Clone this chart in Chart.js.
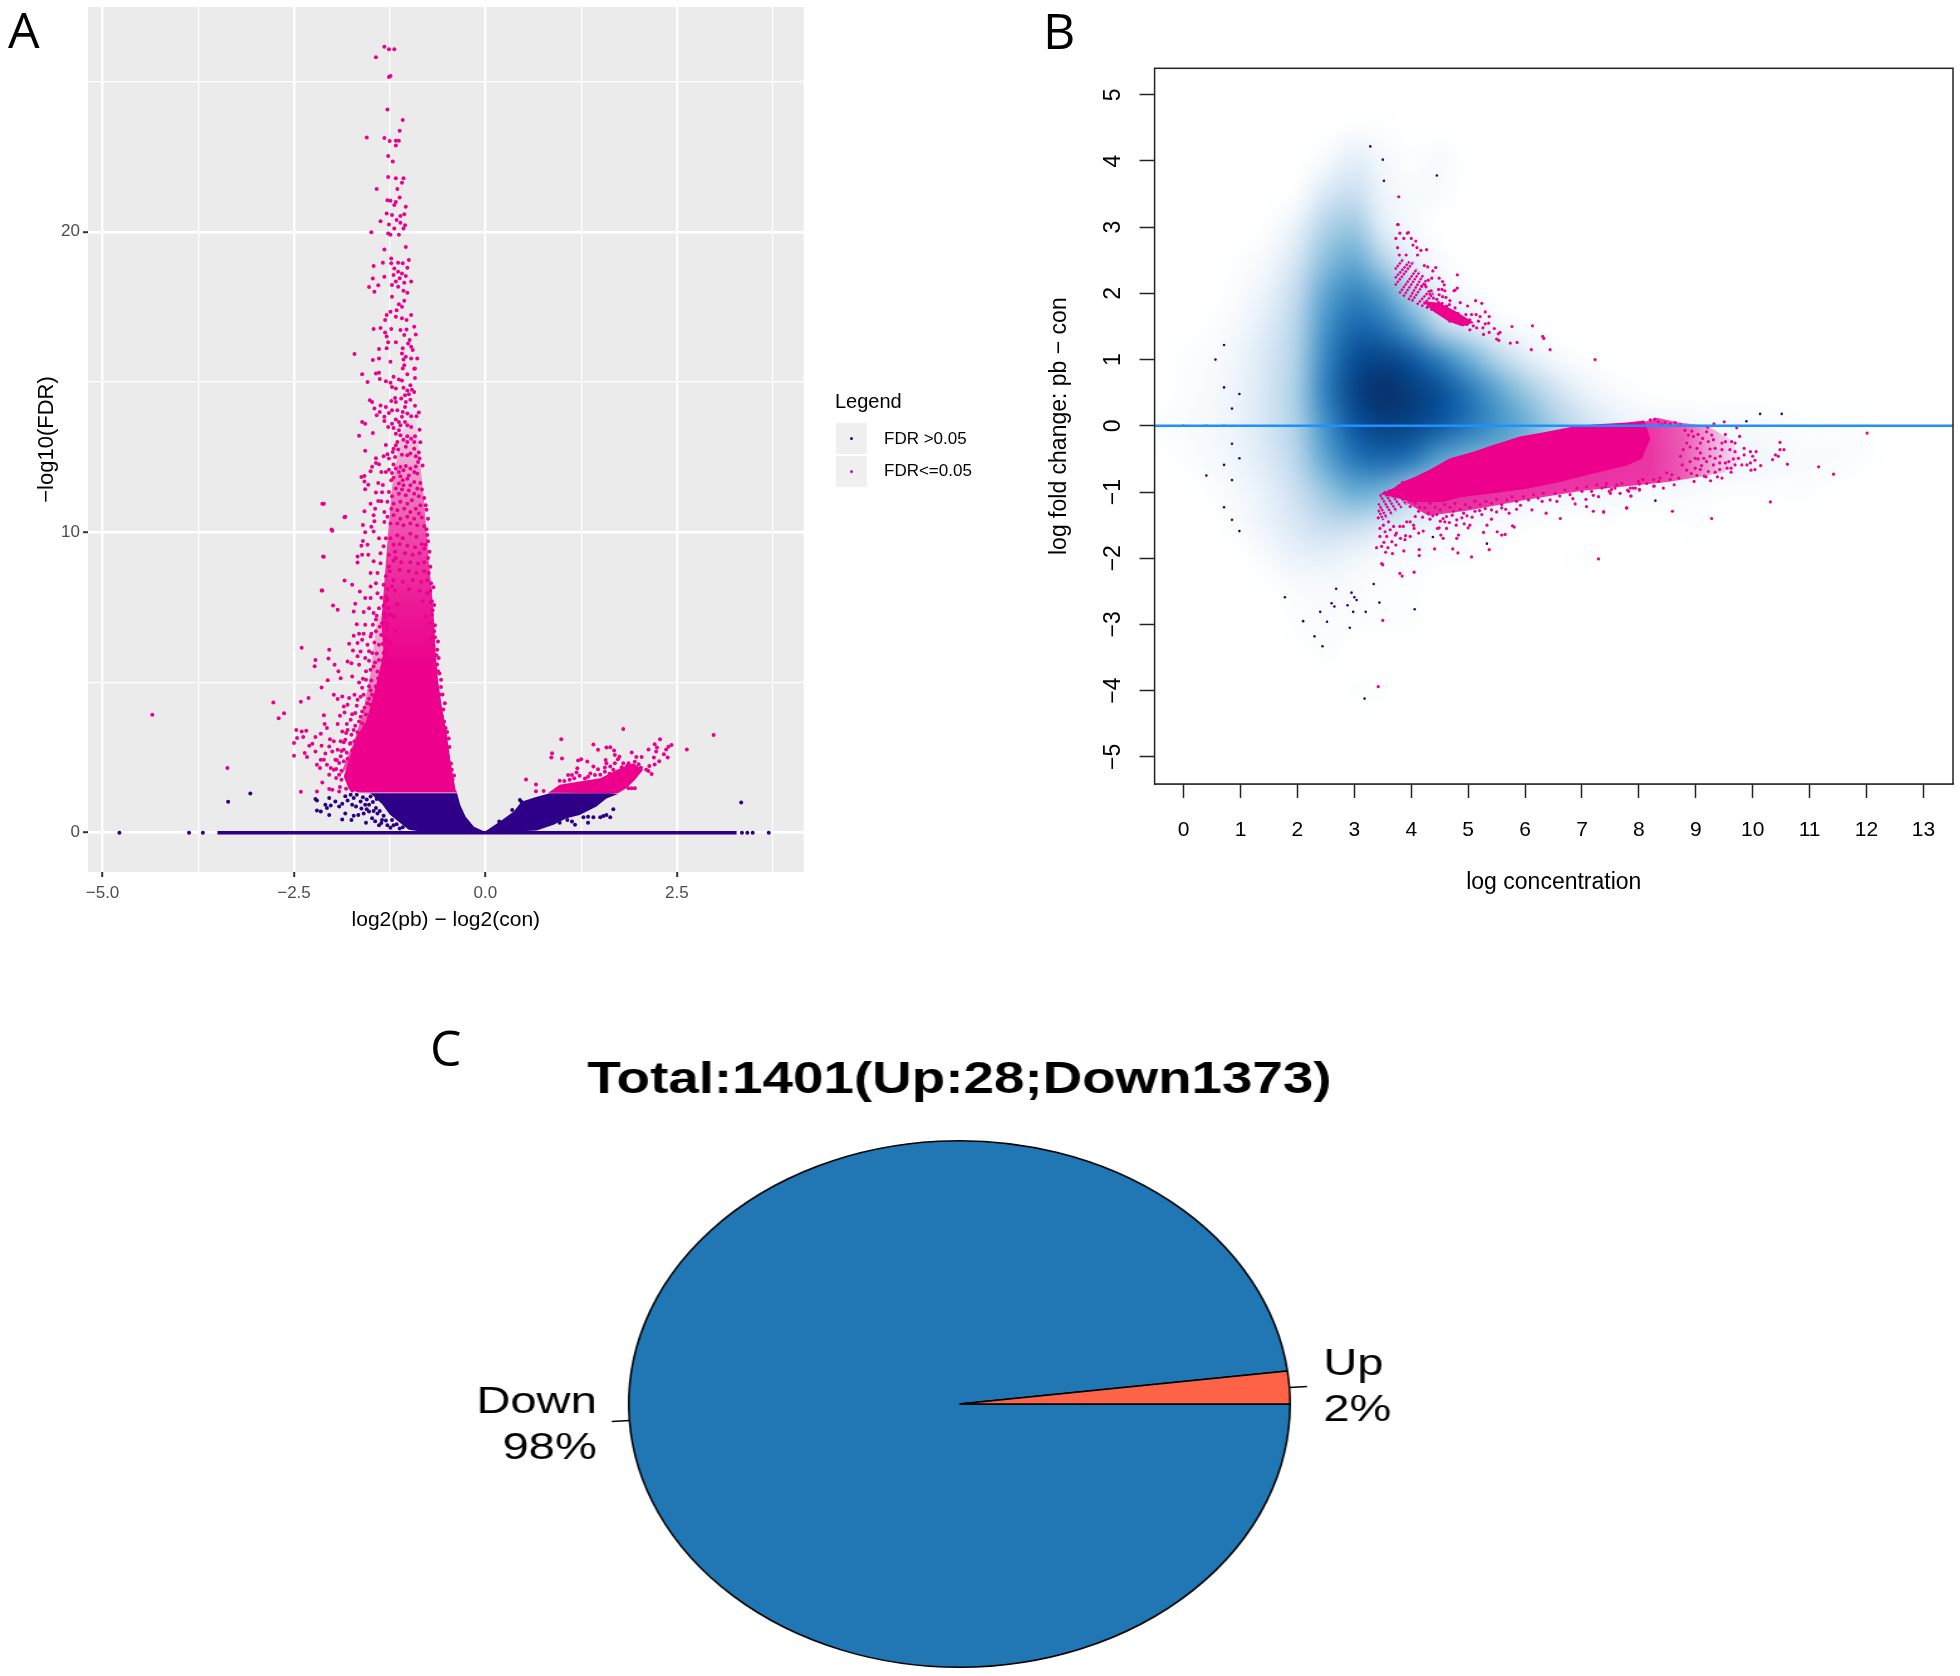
<!DOCTYPE html>
<html>
<head>
<meta charset="utf-8">
<title>Volcano, MA plot and pie</title>
<script src="https://cdn.jsdelivr.net/npm/chart.js@4"></script>
<style>
  html, body { margin: 0; background: #fff; }
  body { position: relative; width: 1960px; height: 1676px; overflow: hidden; font-family: "Liberation Sans", sans-serif; }
  canvas { position: absolute; }
  .letter { position: absolute; font: 50px "Open Sans", sans-serif; color: #000; line-height: 1; }
  .lg { position: absolute; color: #000; white-space: nowrap; }
  .key { position: absolute; left: 836px; width: 31px; height: 31px; background: #f0f0f0; }
  .key i { position: absolute; left: 14px; top: 14px; width: 3.4px; height: 3.4px; border-radius: 50%; }
</style>
</head>
<body>
<canvas id="volcano" width="1000" height="960" style="left:0;top:0"></canvas>
<canvas id="ma" width="940" height="880" style="left:1020px;top:40px"></canvas>
<canvas id="pie" width="800" height="636" style="left:456.6px;top:1040px;transform:scaleX(1.256);transform-origin:left top"></canvas>

<div class="letter" style="left:8px;top:4px">A</div>
<div class="letter" style="left:1043px;top:5px">B</div>
<div class="letter" style="left:430px;top:1022px">C</div>

<div class="lg" style="left:835px;top:390px;font-size:20px">Legend</div>
<div class="key" style="top:423px"><i style="background:#2e0088"></i></div>
<div class="key" style="top:456px"><i style="background:#ec008c"></i></div>
<div class="lg" style="left:884px;top:429px;font-size:17px">FDR &gt;0.05</div>
<div class="lg" style="left:884px;top:461px;font-size:17px">FDR&lt;=0.05</div>

<script>
const PINK = '#ec008c';
const NAVY = '#2e0088';

// ---- A: volcano ----
const aXTicks = [-5, -3.75, -2.5, -1.25, 0, 1.25, 2.5, 3.75];
const aXMajor = [-5, -2.5, 0, 2.5];
const aYTicks = [0, 5, 10, 15, 20, 25];
const aYMajor = [0, 10, 20];

// areas where the dots merge together; the pink mass thins out upward
const aPinkMass = [[-1.65,1.34],[-1.78,1.43],[-1.85,1.87],[-1.78,2.43],[-1.68,3.2],[-1.56,3.7],[-1.5,4.2],[-1.44,4.76],[-1.38,5.42],[-1.33,6],[-1.36,7],[-1.33,8],[-1.3,9],[-1.27,10],[-1.22,11.5],[-1.12,13],[-1,14],[-.92,14],[-.86,12.5],[-.8,11],[-.77,10],[-.74,9],[-.7,8],[-.67,7],[-.65,6],[-.62,5.09],[-.57,4.2],[-.5,3.2],[-.46,2.43],[-.39,1.43],[-.37,1.34]];
const aPinkMassFade = [[14,0],[12,.35],[10,.68],[7.5,.9],[5.5,1]];
const aPinkSide = [[-1.9,1.9],[-1.72,3],[-1.6,4],[-1.5,5.3],[-1.42,7],[-1.3,7.6],[-1.25,5.6],[-1.45,4],[-1.6,3],[-1.75,2.3]];
const aPinkSideFade = [[7.6,.15],[5,.45],[3,.7]];
const aPinkWing = [[.82,1.33],[.97,1.59],[1.23,1.7],[1.5,1.81],[1.76,2.14],[1.93,2.31],[2.06,2.09],[1.95,1.75],[1.84,1.48],[1.73,1.31]];
const aNavySolidLeft = [[-1.65,1.31],[-.37,1.31],[-.33,.93],[-.26,.54],[-.15,.2],[-.02,.05],[0,0],[-.8,.02],[-1,.1],[-1.1,.3],[-1.25,.6],[-1.35,.95],[-1.5,1.3]];
const aNavySolidRight = [[0,.05],[.19,.37],[.37,.7],[.47,1.03],[.65,1.18],[.84,1.31],[1.65,1.31],[1.73,1.29],[1.58,1.14],[1.45,.87],[1.23,.59],[1.06,.48],[.89,.26],[.67,.07],[0,0]];
const aZeroLine = [[-3.5,0],[3.28,0]];
const aZeroDots = [[-4.78,0],[-3.87,0],[-3.69,0],[3.35,0],[3.42,0],[3.49,0],[3.7,0]];

const aPinkTop = [[-1.32,26.16],[-1.26,26.07],[-1.19,26.07],[-1.43,25.81],[-1.24,25.18],[-1.26,25.15],[-1.28,24.07],[-1.08,23.72],[-1.12,23.36],[-1.55,23.14],[-1.32,23.12],[-1.25,23.02],[-1.17,23.03],[-1.13,23.03],[-1.17,22.87],[-1.27,22.52],[-1.21,22.34],[-1.27,21.82],[-1.17,21.78],[-1.07,21.78],[-1.09,21.63],[-1.42,21.42],[-1.15,21.42],[-1.28,21.05],[-1.24,21.03],[-1.12,21.14],[-1.17,20.99],[-1.19,20.89],[-1.04,20.83],[-1.29,20.61],[-1.22,20.56],[-1.11,20.52],[-1.06,20.58],[-1.37,20.35],[-1.16,20.39],[-1.26,20.24],[-1.11,20.3],[-1.05,20.22],[-1.19,20.11],[-1.07,20.11],[-1.49,19.98],[-1.27,19.94],[-1.24,19.9],[-1.13,19.9],[-1.32,19.41],[-1.04,19.49],[-1.23,19.11],[-1,19.06],[-1.14,18.97],[-1.08,18.95],[-1.34,18.97],[-1.23,18.95],[-1.46,18.86],[-1.02,18.8],[-1.19,18.78],[-1.14,18.67],[-1.09,18.61],[-1.2,18.56],[-1.32,18.5],[-1.47,18.44],[-1.12,18.45],[-1.04,18.53],[-1.17,18.34],[-.97,18.34],[-1.06,18.3],[-1.4,18.22],[-1.22,18.23],[-1.52,18.16],[-1.14,18.17],[-1.07,18.04],[-1.02,17.97],[-1.45,18],[-1.22,17.84],[-1.06,17.7],[-1.13,17.59],[-1.09,17.5],[-1.16,17.39],[-1.24,17.34],[-.97,17.23],[-1.29,17.23],[-1.17,17.17],[-1.09,17.12],[-1.31,17.06],[-1.03,17.06],[-.93,16.84],[-1.46,16.76],[-1.37,16.8],[-1.23,16.76],[-1.11,16.73],[-1.03,16.75],[-1.31,16.65],[-.91,16.58],[-1.06,16.56],[-1.29,16.51],[-.99,16.4],[-1.17,16.32],[-1.27,16.32],[-1.01,16.28],[-.97,16.17],[-1.29,16.12],[-1.39,16.1],[-1.08,16.12],[-.95,16.06],[-1.71,15.93],[-1.09,15.95],[-1.04,15.84],[-1.07,15.75],[-.97,15.78],[-.89,15.78],[-1.47,15.73],[-1.39,15.78],[-1.24,15.67],[-1.06,15.56],[-.92,15.45],[-1.61,15.26],[-1.39,15.31],[-1.08,15.45]];
const aPinkUpper = [[-1.54,15],[-1.38,15.1],[-1.43,15.28],[-1.3,15.02],[-1.24,14.97],[-1.2,15.17],[-1.22,14.83],[-1.17,14.78],[-1.13,15.08],[-1.09,15.05],[-1.02,15.26],[-.93,15.44],[-.92,15.13],[-.98,14.89],[-.96,14.74],[-1.02,14.72],[-1.07,14.81],[-1,14.59],[-.93,14.67],[-1.05,14.56],[-1.51,14.39],[-1.48,14.33],[-1.18,14.47],[-1.23,14.37],[-1.17,14.33],[-1.1,14.45],[-1.04,14.33],[-.98,14.41],[-.92,14.21],[-1.05,14.17],[-1.45,14.12],[-1.37,14.22],[-1.3,14.17],[-1.38,14],[-1.42,13.89],[-1.22,14.06],[-1.15,14.06],[-1.26,13.97],[-1.32,13.84],[-1.08,14],[-1.02,13.95],[-.87,13.98],[-.9,13.86],[-.97,13.86],[-1.09,13.84],[-1.17,13.75],[-1.32,13.7],[-1.61,13.67],[-1.57,13.61],[-1.22,13.61],[-1.13,13.67],[-1.05,13.67],[-1.02,13.56],[-1.11,13.56],[-1.27,13.5],[-1.2,13.47],[-.97,13.5],[-.86,13.41],[-1.13,13.39],[-1.47,13.3],[-1.65,13.21],[-1.17,13.28],[-1.11,13.23],[-1.02,13.19],[-1.07,13.08],[-.97,13.11],[-.92,13.19],[-.85,12.99],[-.93,13],[-1.02,13],[-1.15,13],[-1.3,12.9],[-1.17,12.89],[-1.2,12.78],[-1.21,12.67],[-1.14,12.75],[-.93,12.78],[-1.04,12.84],[-1.57,12.71],[-1.28,12.59],[-1.33,12.53],[-1.09,12.58],[-1.02,12.56],[-.98,12.62],[-.87,12.65],[-.86,12.45],[-.91,12.53],[-1.18,12.5],[-1.26,12.45],[-1.43,12.46],[-1.43,12.3],[-1.39,12.26],[-1.2,12.25],[-.88,12.34],[-1.11,12.17],[-1.04,12.2],[-.98,12.12],[-.91,12.19],[-.82,12.22],[-1.48,12.18],[-1.17,12.12],[-1.5,12.03],[-1.36,12],[-1.3,12],[-1.26,12.08],[-1.22,11.97],[-1.13,12],[-1.07,12.06],[-.93,12],[-1,11.89],[-.89,11.95],[-1.11,11.86],[-1.2,11.81],[-1.62,11.84],[-1.58,11.87],[-1.58,11.69],[-1.53,11.58],[-1.4,11.64],[-1.34,11.57],[-1.23,11.73],[-1.08,11.73],[-1.02,11.78],[-.93,11.67],[-.85,11.64],[-1.13,11.62],[-1.07,11.56],[-.98,11.56],[-1.57,11.43],[-1.43,11.32],[-1.35,11.33],[-1.26,11.34],[-1.17,11.45],[-1.09,11.42],[-1,11.39],[-.89,11.45],[-.83,11.42],[-1.13,11.28],[-1.04,11.23],[-.93,11.28],[-.87,11.2],[-.8,11.14],[-1.22,11.2],[-1.4,11.04],[-1.5,10.95],[-2.13,10.95],[-1.36,11.03],[-1.28,11.01],[-1.2,10.95],[-1.11,11.01],[-1.02,10.95],[-.96,11.06],[-.85,10.9],[-.78,10.9],[-.91,10.78],[-1.44,10.78],[-1.58,10.7],[-1.32,10.67],[-1.23,10.78],[-1.15,10.73],[-1.06,10.78],[-.98,10.67],[-.77,10.75],[-.87,10.62],[-1.84,10.5],[-1.46,10.56],[-1.28,10.51],[-1.2,10.56],[-1.11,10.45],[-1.02,10.51],[-.93,10.45],[-.83,10.49],[-.75,10.45],[-1.45,10.36],[-1.6,10.24],[-1.32,10.34],[-1.24,10.29],[-1.15,10.29],[-1.07,10.23],[-.98,10.29],[-.89,10.23],[-.8,10.2],[-1.49,10.18],[-2.01,10.09]];
const aPinkMiddle = [[-1.15,9.9],[-1.08,9.8],[-.98,9.95],[-.9,9.85],[-1.12,9.6],[-1.02,9.55],[-.92,9.5],[-.83,9.6],[-1.18,9.35],[-1.05,9.3],[-.95,9.25],[-.86,9.3],[-.8,9.45],[-1.2,9.05],[-1.1,9],[-.98,9],[-.88,8.95],[-.8,9],[-1.25,8.7],[-1.12,8.75],[-1,8.7],[-.9,8.65],[-.8,8.7],[-1.2,8.4],[-1.08,8.35],[-.95,8.4],[-.84,8.35],[-.76,8.4],[-1.28,8.1],[-1.18,8.05],[-1,8.1],[-.86,8.05],[-.72,8.05],[-1.3,7.7],[-1.15,7.6],[-.82,7.7],[-.72,7.65],[-1.32,7.3],[-1.2,7.2],[-.78,7.2],[-1.28,6.8],[-1.18,6.7],[-.7,6.5],[-1.25,6.3],[-.68,6.2],[-.75,9.14],[-.74,8.64],[-.76,9.91],[-.78,9.58],[-.68,8.17],[-.76,7.97],[-.67,7.58],[-.7,7.25],[-.72,6.97],[-.67,6.7],[-.62,6.36],[-.63,6.09],[-.61,5.81],[-.62,5.37],[-.58,5.09],[-.6,4.59],[-.53,4.31],[-.57,3.87],[-.52,3.48],[-.48,3.13],[-.49,2.54],[-.44,2.09],[-.43,1.76],[-.64,5.9],[-.66,6.5],[-.63,5.6],[-.6,5.3],[-.58,4.85],[-.56,4.6],[-.55,4.1],[-.54,3.7],[-.5,3.35],[-.47,2.85],[-.45,2.3],[-.41,1.9],[-.7,7.7],[-.69,7.4],[-.66,6.9],[-.71,8.3],[-.72,8.85],[-.73,9.35],[-.75,9.7],[-.77,10.1]];
const aPinkLeft = [[-2.12,9.19],[-2.14,8.06],[-1.84,8.39],[-1.74,8.25],[-1.64,8.03],[-1.99,7.56],[-1.93,7.42],[-1.7,7.62],[-1.72,7.36],[-1.59,7.34],[-1.68,6.94],[-2.4,6.15],[-2.04,6.09],[-2.05,5.8],[-2.22,5.75],[-2.23,5.54],[-1.97,5.59],[-1.8,5.7],[-1.75,5.64],[-1.92,5.37],[-1.89,5.14],[-2.06,5.07],[-2.14,4.83],[-2.31,4.48],[-2.41,4.36],[-2.63,3.97],[-2.7,3.81],[-4.35,3.92],[-2.77,4.33],[-3.37,2.15],[-2.11,10.95],[-1.83,10.51],[-2,10.05],[-2.11,9.18],[-2.13,8.06],[-2.5,2.98],[-2.47,3.42],[-2.4,3.37],[-2.34,3.39],[-2.46,3.15],[-2.38,3.18],[-2.5,2.56],[-2.36,2.65],[-2.33,2.52],[-2.3,2.89],[-2.26,2.96],[-2.22,3.18],[-2.15,3.29],[-2.14,2.89],[-2.22,2.7],[-2.03,3.11],[-1.98,3.04],[-2.04,2.87],[-2.09,2.63],[-2,2.7],[-1.93,2.76],[-2.15,2.43],[-2.11,2.43],[-2.2,2.26],[-2.16,2.15],[-2.07,2.26],[-2.02,2.15],[-1.96,2.43],[-1.91,2.32],[-1.89,2.54],[-1.98,2.09],[-1.91,1.93],[-2.04,1.93],[-2.13,1.67],[-2.2,1.37],[-2.41,1.36],[-2.04,1.45],[-2,1.43],[-1.91,1.37],[-1.98,4.59],[-1.93,4.45],[-1.87,4.53],[-1.8,4.26],[-1.71,4.59],[-1.67,4.42],[-1.85,4.2],[-1.78,4.48],[-2.11,3.91],[-2.1,3.62],[-2.07,3.48],[-1.93,3.62],[-1.9,3.89],[-1.84,4],[-1.76,3.76],[-1.87,3.37],[-1.8,3.42],[-1.89,3.04],[-1.83,3.09],[-1.76,2.98],[-1.85,2.76],[-1.7,3.98],[-1.61,4.03],[-1.65,3.7],[-1.72,3.42],[-1.78,6.29],[-1.67,6.31],[-1.61,6.42],[-1.73,6.06],[-1.63,6.03],[-1.54,6.25],[-1.67,5.87],[-1.57,5.81],[-1.48,5.98],[-1.65,5.59],[-1.56,5.37],[-1.74,5.2],[-1.65,5],[-1.56,5.09],[-1.46,5.53],[-1.39,5.75],[-1.52,4.87],[-1.59,4.59],[-1.48,4.59],[-1.54,4.31],[-1.43,4.87],[-1.72,6.55],[-1.65,6.62],[-1.59,6.62],[-1.5,6.53],[-1.43,6.7],[-1.39,6.25],[-1.3,6.42],[-1.33,5.98],[-1.57,6.92],[-1.43,7.09],[-1.35,6.97],[-1.46,7.31],[-1.52,7.47],[-1.39,7.47],[-1.5,7.81],[-1.57,7.81],[-1.41,7.97],[-1.3,7.86],[-1.5,8.19],[-1.43,8.3],[-1.33,8.25],[-1.22,8.19],[-1.5,8.64],[-1.41,8.64],[-1.3,8.53],[-1.46,9.03],[-1.37,8.97],[-1.26,8.86],[-1.61,9.25],[-1.67,9.19],[-1.67,8.99],[-1.53,9.25],[-1.6,9.71],[-1.54,9.58],[-1.62,9.55],[-1.57,10],[-1.46,10.02],[-1.39,9.8],[-1.3,9.8],[-1.24,9.8],[-1.33,9.53],[-1.2,9.58],[-1.26,9.25],[-1.37,9.3],[-1.17,9.14],
  [-1.36,7.82],[-1.28,7.76],[-1.33,7.55],[-1.27,7.47],[-1.42,7.22],[-1.31,7.18],[-1.25,7.26],[-1.47,6.92],[-1.38,6.85],[-1.29,6.95],[-1.49,6.62],[-1.36,6.58],[-1.45,6.33],[-1.34,6.28],[-1.52,6.04],[-1.42,5.96],[-1.31,6.06],[-1.52,5.72],[-1.44,5.66],[-1.34,5.74],[-1.5,5.42],[-1.41,5.36],[-1.6,5.12],[-1.49,5.06],[-1.4,5.14],[-1.61,4.82],[-1.5,4.74],[-1.42,4.82],[-1.63,4.52],[-1.52,4.46],[-1.45,4.55],[-1.68,4.22],[-1.58,4.16],[-1.5,4.26],[-1.74,3.94],[-1.63,3.86],[-1.56,3.93],[-1.81,3.62],[-1.7,3.56],[-1.61,3.63],[-1.82,3.32],[-1.75,3.26],[-1.67,3.34],[-1.85,3.01],[-1.77,2.96],[-1.71,3.04],[-1.88,2.72],[-1.81,2.66],[-1.74,2.74],[-1.94,2.42],[-1.85,2.38],[-1.8,2.46],[-1.95,2.12],[-1.88,2.06],[-1.95,1.82],[-1.88,1.76],[-1.9,1.52],[-1.82,1.46],[-1.74,1.4]];
const aPinkRight = [[1.8,3.45],[2.98,3.25],[.99,3.11],[.87,2.64],[.86,2.5],[1,2.47],[.53,1.77],[.66,1.6],[.66,1.38],[.76,1.39],[1.41,2.93],[1.47,2.76],[1.58,2.83],[1.63,2.84],[1.68,2.73],[1.69,2.58],[1.75,2.53],[1.73,2.44],[1.91,2.67],[1.97,2.52],[2.04,2.52],[2.13,2.77],[2.21,2.94],[2.28,3.11],[2.24,2.83],[2.23,2.7],[2.43,2.92],[2.39,2.86],[2.36,2.77],[2.63,2.77],[2.33,2.61],[2.38,2.5],[2.2,2.5],[2.27,2.38],[2.21,2.27],[2.14,2.22],[2.1,2.09],[2.17,1.95],[2.13,2.05],[1.21,2.4],[1.25,2.44],[1.33,2.37],[1.2,2.14],[1.19,2],[1.41,2.2],[1.57,2.42],[1.58,2.31],[1.69,2.31],[1.63,2.2],[1.56,2.17],[1.47,2.11],[1.8,2.31],[1.87,2.31],[1.08,1.92],[1.13,1.92],[1.16,1.81],[.97,1.73],[1.23,1.89],[1.37,1.97],[1.43,1.92],[1.56,2.03],[1.67,2.09],[1.91,1.48],[1.95,1.48],[1.87,1.48],[1.03,1.72],[1.1,1.76],[1.3,1.8],[1.34,1.86],[1.5,1.93],[1.62,1.96],[1.72,2.02],[1.78,2.18],[1.85,2.22],[1.95,2.36],[2,2.28],[2.03,2.16]];
const aNavyDots = [[-3.07,1.3],[-3.36,1.03],[3.34,1],[-2.22,1.12],[-2.2,1.07],[-2.2,.74],[-2.15,.7],[-2.04,1.15],[-2.09,.93],[-2.02,.9],[-2.07,.82],[-2.04,.59],[-1.96,1.04],[-1.91,.87],[-1.87,.96],[-1.83,1.21],[-1.76,1.26],[-1.8,1.07],[-1.72,1.15],[-1.68,1.26],[-1.74,.93],[-1.69,.87],[-1.63,1.04],[-1.83,.64],[-1.87,.44],[-1.75,.42],[-1.72,.56],[-1.66,.59],[-1.59,.64],[-1.56,.33],[-1.48,.48],[-1.41,.64],[-1.39,.25],[-1.35,.42],[-1.28,.25],[-1.43,.82],[-1.52,.93],[-1.57,.93],[-1.52,.7],[-1.2,.25],[-1.12,.14],[.45,1.09],[.47,1.03],[.35,.75],[.18,.37],[1.67,.78],[1.63,.51],[1.58,.59],[1.54,.55],[1.5,.51],[1.41,.51],[1.34,.53],[1.28,.51],[1.34,.33],[1.17,.26],[1.13,.37],[1.07,.42],[.97,.33],
  [-1.6,1.18],[-1.55,1.1],[-1.5,1.2],[-1.47,1.02],[-1.42,1.12],[-1.62,.8],[-1.55,.78],[-1.46,.72],[-1.38,.72],[-1.33,.56],[-1.44,.38],[-1.36,.32],[-1.3,.4],[-1.22,.42],[-1.16,.28],[-1.24,.16],[-1.08,.18]];

// ---- B: MA plot ----
const bXTicks = [0,1,2,3,4,5,6,7,8,9,10,11,12,13];
const bYTicks = [-5,-4,-3,-2,-1,0,1,2,3,4,5];
const bDensityX = [-0.5,0,0.5,1,1.5,2,2.5,3,3.5,4,4.5,5,5.5,6,6.5,7,7.5,8,8.5,9,9.5,10,10.5,11,11.5,12,12.5,13,13.5];
const bDensityY = [5.5,5,4.5,4,3.5,3,2.5,2,1.5,1,0.5,0,-0.5,-1,-1.5,-2,-2.5,-3,-3.5,-4,-4.5,-5,-5.5];
const bDensity = [
  [0,0,0,0,0,0,0,0,0,0,0,0,0,0,0,0,0,0,0,0,0,0,0,0,0,0,0,0,0],
  [0,0,0,0,0,0,0,0,0,0,0,0,0,0,0,0,0,0,0,0,0,0,0,0,0,0,0,0,0],
  [0,0,0,0,0,0,0,1,1,0,0,0,0,0,0,0,0,0,0,0,0,0,0,0,0,0,0,0,0],
  [0,0,0,0,0,0,3,10,4,1,3,0,0,0,0,0,0,0,0,0,0,0,0,0,0,0,0,0,0],
  [0,0,0,0,0,1,14,20,6,3,2,0,0,0,0,0,0,0,0,0,0,0,0,0,0,0,0,0,0],
  [0,0,0,0,1,8,28,34,10,3,0,0,0,0,0,0,0,0,0,0,0,0,0,0,0,0,0,0,0],
  [0,0,0,1,4,16,38,46,28,8,2,0,0,0,0,0,0,0,0,0,0,0,0,0,0,0,0,0,0],
  [0,0,0,2,8,24,48,60,50,28,8,2,0,0,0,0,0,0,0,0,0,0,0,0,0,0,0,0,0],
  [0,0,1,4,12,28,55,70,66,50,27,12,4,1,0,0,0,0,0,0,0,0,0,0,0,0,0,0,0],
  [0,1,2,6,15,30,60,80,86,76,62,45,28,12,4,1,0,0,0,0,0,0,0,0,0,0,0,0,0],
  [0,1,3,7,16,32,62,86,100,92,80,66,50,35,20,8,3,1,0,0,0,0,0,0,0,0,0,0,0],
  [1,2,4,7,16,30,56,76,88,85,75,65,55,45,32,20,10,6,5,4,3,3,2,1,1,1,0,0,0],
  [0,1,3,6,13,27,48,65,70,65,50,42,38,35,30,22,16,10,9,8,6,5,3,2,2,1,0,0,0],
  [0,0,1,4,9,20,35,45,42,30,25,18,12,8,6,5,4,3,3,2,1,1,1,1,0,0,0,0,0],
  [0,0,0,2,7,14,22,22,14,8,5,3,2,1,0,0,0,0,0,1,0,0,0,0,0,0,0,0,0],
  [0,0,0,0,3,7,8,5,3,2,1,1,0,0,0,1,0,0,0,0,0,0,0,0,0,0,0,0,0],
  [0,0,0,0,0,2,2,2,1,1,0,0,0,0,0,0,0,0,0,0,0,0,0,0,0,0,0,0,0],
  [0,0,0,0,0,1,2,1,1,1,0,0,0,0,0,0,0,0,0,0,0,0,0,0,0,0,0,0,0],
  [0,0,0,0,0,0,1,0,0,0,0,0,0,0,0,0,0,0,0,0,0,0,0,0,0,0,0,0,0],
  [0,0,0,0,0,0,0,1,1,0,0,0,0,0,0,0,0,0,0,0,0,0,0,0,0,0,0,0,0],
  [0,0,0,0,0,0,0,0,0,0,0,0,0,0,0,0,0,0,0,0,0,0,0,0,0,0,0,0,0],
  [0,0,0,0,0,0,0,0,0,0,0,0,0,0,0,0,0,0,0,0,0,0,0,0,0,0,0,0,0],
  [0,0,0,0,0,0,0,0,0,0,0,0,0,0,0,0,0,0,0,0,0,0,0,0,0,0,0,0,0]
];
const bBlues = [[255,255,255],[222,235,247],[198,219,239],[158,202,225],[107,174,214],[66,146,198],[33,113,181],[8,81,156],[8,64,127],[8,48,107]];

const bZeroLine = [[-0.51,0],[13.52,0]];
const bPinkSolid = [[3.45,-1.03],[3.69,-.94],[3.86,-.84],[4.04,-.78],[4.33,-.66],[4.68,-.49],[5.09,-.39],[5.44,-.29],[5.91,-.16],[6.38,-.09],[6.85,-.01],[7.2,.02],[7.79,.05],[8.1,.08],[8.2,-.2],[8.05,-.5],[7.79,-.6],[7.2,-.72],[6.61,-.85],[6.03,-.95],[5.44,-1.02],[4.86,-1.08],[4.56,-1.15],[4.27,-1.15],[3.98,-1.15],[3.8,-1.1]];
const bPinkHaze = [[3.9,-1.15],[4.3,-1.36],[5,-1.28],[6,-1.12],[7,-.98],[7.7,-.92],[8.5,-.85],[9,-.78],[9.5,-.7],[9.8,-.5],[9.6,-.2],[9.2,0],[8.7,.05],[8.32,.12]];
const bPinkHazeFade = [[8.2,.78],[8.8,.62],[9.4,.25],[9.8,.05]];
const bPinkBand = [[4.2,1.88],[4.5,1.86],[4.8,1.72],[5.1,1.56],[4.9,1.5],[4.65,1.58],[4.4,1.72]];
// stripes of merged dots at the low concentration end: x1, y1, x2, y2
const bHatch = [[3.715,2.36,3.86,2.52],[3.715,2.23,3.97,2.48],[3.715,2.12,4.04,2.48],[3.79,2,4.1,2.37],[3.86,1.95,4.15,2.33],[3.95,1.9,4.21,2.28],[4.01,1.88,4.27,2.21],[4.1,1.83,4.33,2.05],[4.18,1.8,4.39,2],[3.45,-1.04,3.66,-1.34],[3.52,-.99,3.74,-1.29],[3.6,-.97,3.83,-1.24],[3.69,-.95,3.92,-1.19],[3.76,-.89,3.98,-1.14],[3.42,-1.17,3.57,-1.39],[3.42,-1.27,3.51,-1.42],[3.83,-.84,4.01,-1.07]];
const bPinkUpper = [[3.78,3.46],[3.76,3.04],[3.77,3.04],[3.8,2.91],[3.93,2.91],[3.95,2.92],[3.73,2.83],[3.87,2.83],[4,2.83],[4.08,2.79],[4.03,2.73],[4.1,2.69],[4.17,2.65],[4.27,2.66],[3.76,2.69],[4.11,2.58],[3.79,2.58],[3.91,2.58],[4.23,2.42],[4.29,2.4],[4.43,2.39],[4.38,2.34],[4.81,2.28],[4.49,2.23],[4.36,2.23],[4.3,2.2],[4.55,2.18],[4.58,2.13],[4.24,2.13],[4.18,2.11],[4.26,2.1],[4.48,2.06],[4.54,2.06],[4.59,2.04],[4.77,2.05],[4.81,2.08],[4.75,2.04],[4.35,2.04],[4.33,1.99],[4.49,1.98],[4.55,1.95],[4.61,1.94],[4.45,1.91],[4.39,1.93],[4.68,1.89],[4.86,1.86],[5.13,1.89],[5.24,1.85],[4.48,1.86],[4.54,1.85],[4.62,1.81],[4.67,1.83],[4.77,1.78],[4.99,1.81],[4.33,1.85],[4.39,1.83],[4.45,1.8],[4.52,1.76],[4.36,1.76],[4.28,1.79],[5.3,1.72],[5.06,1.68],[5.14,1.68],[4.96,1.68],[4.82,1.7],[4.72,1.73],[5.21,1.65],[5.37,1.65],[4.86,1.65],[4.6,1.68],[4.65,1.65],[4.71,1.63],[4.51,1.7],[4.57,1.73],[4.77,1.6],[4.92,1.6],[5.03,1.6],[5.18,1.58],[5.3,1.54],[5.36,1.55],[4.86,1.55],[4.68,1.58],[4.98,1.53],[5.09,1.51],[5.26,1.48],[5.46,1.47],[5.77,1.5],[6.13,1.51],[5.03,1.45],[5.15,1.48],[5.27,1.38],[5.37,1.41],[5.53,1.39],[5.56,1.41],[5.5,1.31],[5.54,1.29],[5.74,1.25],[5.86,1.26],[6.31,1.35],[6.33,1.32],[6.11,1.15],[6.44,1.15],[7.23,1]];
const bPinkLower = [[3.39,-1.84],[3.48,-1.82],[3.59,-1.84],[3.55,-1.91],[3.67,-1.93],[3.73,-1.8],[3.87,-1.89],[3.48,-2.08],[3.5,-2.1],[3.8,-2.23],[3.84,-2.27],[4.05,-2.21],[4.14,-1.87],[4.14,-1.96],[4.41,-1.86],[4.73,-1.86],[4.82,-1.92],[5.06,-1.98],[5.37,-1.87],[7.29,-2.01],[3.52,-1.76],[3.81,-1.7],[3.89,-1.72],[3.98,-1.67],[3.9,-1.66],[4.13,-1.62],[4.21,-1.59],[4.52,-1.65],[4.56,-1.7],[4.8,-1.7],[4.83,-1.65],[5.27,-1.61],[5.51,-1.6],[5.59,-1.65],[5.65,-1.64],[5.78,-1.51],[5.81,-1.53],[5.33,-1.5],[5.41,-1.41],[6.62,-1.4],[6.37,-1.32],[6.12,-1.27],[5.85,-1.26],[5.72,-1.32],[5.24,-1.34],[5.03,-1.5],[4.93,-1.48],[5,-1.54],[4.79,-1.5],[4.62,-1.55],[4.49,-1.54],[4.46,-1.55],[4.05,-1.55],[4.04,-1.5],[3.92,-1.45],[3.8,-1.52],[3.63,-1.57],[3.54,-1.6],[3.45,-1.55],[3.42,-1.39],[3.45,-1.67],[3.57,-1.67],[3.66,-1.75],[3.72,-1.65],[3.74,-1.62],[3.51,-1.5],[3.6,-1.45],[3.69,-1.52],[3.86,-1.52],[3.98,-1.45],[4.07,-1.37],[4.33,-1.41],[4.51,-1.44],[4.59,-1.45],[4.67,-1.46],[4.8,-1.42],[4.89,-1.39],[5.07,-1.38],[6.88,-1.18],[7.08,-1.22],[7.2,-1.29],[7.38,-1.3],[7.79,-1.24],[7.29,-1.07],[7.07,-1.11],[7.86,-1.06],[7.82,-.99],[8.01,-.96],[3.42,-3.94],[3.5,-2.94],
  [3.98,-1.22],[4.07,-1.17],[4.15,-1.23],[4.24,-1.24],[4.33,-1.17],[4.42,-1.23],[4.51,-1.27],[4.59,-1.19],[4.68,-1.23],[4.77,-1.17],[4.86,-1.26],[4.95,-1.19],[5.03,-1.23],[5.12,-1.14],[5.21,-1.19],[5.31,-1.14],[5.41,-1.17],[5.5,-1.11],[5.59,-1.19],[5.68,-1.12],[5.77,-1.07],[5.85,-1.14],[5.97,-1.07],[6.06,-1.12],[6.15,-1.04],[6.23,-1.09],[6.32,-1.02],[6.44,-1.12],[6.53,-1.02],[6.61,-1.06],[6.7,-.97],[6.79,-1.04],[6.91,-.94],[7,-.99],[7.08,-.92],[7.17,-.99],[7.26,-.89],[7.35,-.94],[7.43,-.87],[7.52,-.96],[7.61,-.89],[7.7,-.87],[7.9,-.94],[7.99,-.84],[8.14,-.87],[8.26,-.91],[4.13,-1.29],[4.3,-1.32],[4.45,-1.34],[4.62,-1.37],[4.74,-1.29],[4.92,-1.32],[5.12,-1.29],[5.41,-1.27],[5.59,-1.24],[4.2,-1.38],[4.38,-1.36],[4.56,-1.4],[4.72,-1.35],[4.98,-1.36],[5.2,-1.28],[5.3,-1.25],[5.5,-1.3],[5.66,-1.26],[5.92,-1.2],[6.3,-1.14],[6.56,-1.14],[6.84,-1.1],[7.2,-1.05],[7.5,-1.02]];
const bPinkRight = [[12.01,-.11],[9.5,.06],[9.32,.03],[9.72,-.03],[9.52,-.13],[9.77,-.16],[10.48,-.25],[10.48,-.36],[10.55,-.36],[10.4,-.44],[10.45,-.46],[10.35,-.51],[10.61,-.58],[11.16,-.62],[11.42,-.73],[10.31,-1.15],[9.28,-1.4],[8.59,-1.29],[7.78,-1.24],[7.38,-1.3],[9.85,-.34],[9.96,-.39],[10.06,-.39],[10,-.46],[10.04,-.52],[10.14,-.6],[9.96,-.56],[9.9,-.59],[9.81,-.59],[9.97,-.67],[10.04,-.66],[9.69,-.59],[9.75,-.49],[9.85,-.44],[9.69,-.26],[9.63,-.24],[9.69,-.39],[9.6,-.36],[9.66,-.5],[9.58,-.54],[9.62,-.64],[9.62,-.7],[9.55,-.64],[9.46,-.79],[9.38,-.77],[9.26,-.83],[9.34,-.7],[9.42,-.66],[9.22,-.69],[9.15,-.76],[9.18,-.77],[8.97,-.84],[8.84,-.67],[8.99,-.64],[9.08,-.66],[9.31,-.59],[9.42,-.56],[9.52,-.56],[9.34,-.49],[9.43,-.46],[9.25,-.46],[9.19,-.54],[9.14,-.49],[9.34,-.34],[9.25,-.35],[9.46,-.36],[9.52,-.24],[9.46,-.26],[9.31,-.21],[9.22,-.24],[9.28,-.14],[9.19,-.09],[9.21,-.02],[9.08,-.26],[9.02,-.34],[9.08,-.41],[8.99,-.49],[8.9,-.54],[8.96,-.16],[8.87,-.14],[8.81,-.07],[8.73,.02],[8.64,.05],[8.55,.03],[8.46,.05],[8.84,-.26],[8.78,-.36],[8.73,-.46],[8.76,-.59],[8.7,-.79],[8.62,-.89],[8.55,-.81],[8.43,-.94],[8.35,-.84],[8.27,-.91],[8.07,-.81],[8.01,-.88],[8.01,-.97],[7.94,-.94],[7.86,-1.06],[7.85,-.94],[7.8,-.97],[7.67,-1.02],[7.58,-.94],[7.48,-.99],[7.41,-.92],[8.58,-.74],[8.49,-.71],[8.37,-.79],[8.26,-.81],[8.9,-.32],[8.93,-.08],[9.04,-.13],[9.12,-.19],[9.04,-.5],[9.1,-.6],[8.92,-.72],[9.02,-.75],[8.2,.09],[8.28,.1],[8.34,.06],[8.4,.02]];
const bNavyDots = [[3.28,4.22],[3.5,4.02],[3.52,3.7],[4.45,3.78],[.71,1.22],[.56,1],[.71,.58],[.98,.48],[.85,.26],[0,0],[.4,0],[.71,0],[.85,-.27],[.98,-.49],[.71,-.59],[.4,-.75],[.85,-.82],[.71,-1.23],[.85,-1.42],[.98,-1.59],[1.78,-2.59],[2.68,-2.46],[2.95,-2.52],[3,-2.59],[3.04,-2.63],[3.34,-2.39],[3.44,-2.67],[2.6,-2.68],[2.65,-2.73],[2.88,-2.71],[2.4,-2.81],[2.98,-2.81],[3.2,-2.81],[2.1,-2.95],[2.52,-2.96],[2.92,-3.05],[2.3,-3.18],[2.44,-3.33],[4.06,-2.77],[3.18,-4.12],[4.38,-1.68],[5.33,-1.78],[8.29,-1.13],[10.13,.18],[10.51,.18],[9.89,.07]];

// ---- C: pie ----
const pieLabels = ['Down', 'Up'];
const pieCounts = [1373, 28];
const pieColors = ['#2077b4', '#ff6347'];

const xy = pts => pts.map(p => ({ x: p[0], y: p[1] }));
const dots = (pts, color, r) => ({ type: 'scatter', data: xy(pts), backgroundColor: color, borderWidth: 0, pointRadius: r, pointHoverRadius: r });
const area = (pts, color) => ({ type: 'scatter', data: xy(pts), showLine: true, fill: 'shape', tension: 0, backgroundColor: color, borderColor: 'rgba(0,0,0,0)', borderWidth: 0, pointRadius: 0 });
const line = (pts, color, w) => ({ type: 'scatter', data: xy(pts), showLine: true, fill: false, borderColor: color, borderWidth: w, pointRadius: 0 });

// pink that thins out along an axis, stops are [axis value, opacity]
const pinkFade = (axis, stops) => c => {
  const chart = c.chart;
  if (!chart.chartArea) return PINK;
  const s = chart.scales[axis];
  const a = s.getPixelForValue(stops[0][0]);
  const b = s.getPixelForValue(stops[stops.length - 1][0]);
  const g = axis === 'y' ? chart.ctx.createLinearGradient(0, a, 0, b) : chart.ctx.createLinearGradient(a, 0, b, 0);
  stops.forEach(st => g.addColorStop((s.getPixelForValue(st[0]) - a) / (b - a), `rgba(236,0,140,${st[1]})`));
  return g;
};

const setTicks = values => scale => { scale.ticks = values.map(v => ({ value: v })); };
const fitX = h => s => { s.height = h; s.paddingLeft = 0; s.paddingRight = 0; };
const fitY = w => s => { s.width = w; s.paddingTop = 0; s.paddingBottom = 0; };
const baseOpts = { responsive: false, animation: false, events: [] };
const noLegend = { legend: { display: false }, tooltip: { enabled: false } };

new Chart(document.getElementById('volcano'), {
  type: 'scatter',
  // first dataset ends up on top
  data: { datasets: [
    dots(aNavyDots, NAVY, 2),
    dots(aZeroDots, NAVY, 2),
    line(aZeroLine, NAVY, 3.5),
    dots(aPinkTop, PINK, 2),
    dots(aPinkUpper, PINK, 2),
    dots(aPinkMiddle, PINK, 2),
    dots(aPinkLeft, PINK, 2),
    dots(aPinkRight, PINK, 2),
    area(aNavySolidLeft, NAVY),
    area(aNavySolidRight, NAVY),
    area(aPinkMass, pinkFade('y', aPinkMassFade)),
    area(aPinkWing, PINK),
    area(aPinkSide, pinkFade('y', aPinkSideFade))
  ] },
  options: {
    ...baseOpts,
    layout: { padding: { top: 7, right: 196.4, left: 0, bottom: 0 } },
    plugins: noLegend,
    scales: {
      x: {
        min: -5.19, max: 4.155,
        afterBuildTicks: setTicks(aXTicks),
        afterFit: fitX(88),
        border: { display: false },
        grid: {
          color: '#fff', tickLength: 5,
          lineWidth: c => aXMajor.includes(c.tick.value) ? 2.4 : 1.2,
          tickColor: c => aXMajor.includes(c.tick.value) ? '#333' : 'rgba(0,0,0,0)',
          tickWidth: 2
        },
        ticks: {
          autoSkip: false, maxRotation: 0, padding: 6, color: '#4d4d4d',
          font: { family: 'Liberation Sans', size: 17 },
          callback: v => aXMajor.includes(v) ? v.toFixed(1).replace('-', '−') : ''
        },
        title: { display: true, text: 'log2(pb) − log2(con)', color: '#000', padding: { top: 0, bottom: 27 }, font: { family: 'Liberation Sans', size: 21 } }
      },
      y: {
        min: -1.31, max: 27.48,
        afterBuildTicks: setTicks(aYTicks),
        afterFit: fitY(88),
        border: { display: false },
        grid: {
          color: '#fff', tickLength: 5,
          lineWidth: c => aYMajor.includes(c.tick.value) ? 2.4 : 1.2,
          tickColor: c => aYMajor.includes(c.tick.value) ? '#333' : 'rgba(0,0,0,0)',
          tickWidth: 2
        },
        ticks: {
          autoSkip: false, padding: 3, color: '#4d4d4d',
          font: { family: 'Liberation Sans', size: 17 },
          callback: v => aYMajor.includes(v) ? String(v) : ''
        },
        title: { display: true, text: '−log10(FDR)', color: '#000', padding: { top: 34, bottom: 0 }, font: { family: 'Liberation Sans', size: 22 } }
      }
    }
  },
  plugins: [{
    id: 'panelGrey',
    beforeDraw(chart) {
      const a = chart.chartArea;
      chart.ctx.fillStyle = '#ebebeb';
      chart.ctx.fillRect(a.left, a.top, a.width, a.height);
    }
  }]
});

// density value -> Blues colour
function blueFor(v) {
  const t = v / 100 * (bBlues.length - 1);
  const i = Math.min(Math.floor(t), bBlues.length - 2);
  const f = t - i;
  return bBlues[i].map((c, k) => Math.round(c + (bBlues[i + 1][k] - c) * f));
}

const densityLayer = document.createElement('canvas');
densityLayer.width = bDensityX.length;
densityLayer.height = bDensityY.length;
{
  const g = densityLayer.getContext('2d');
  const img = g.createImageData(densityLayer.width, densityLayer.height);
  bDensity.forEach((row, r) => row.forEach((v, c) => {
    const rgb = blueFor(v);
    const o = (r * densityLayer.width + c) * 4;
    img.data[o] = rgb[0]; img.data[o + 1] = rgb[1]; img.data[o + 2] = rgb[2]; img.data[o + 3] = 255;
  }));
  g.putImageData(img, 0, 0);
}

const hatchPoints = bHatch.flatMap(s => [[s[0], s[1]], [s[2], s[3]], [NaN, NaN]]);

new Chart(document.getElementById('ma'), {
  type: 'scatter',
  data: { datasets: [
    line(bZeroLine, '#1e90ff', 2.5),
    dots(bNavyDots, NAVY, 1.3),
    dots(bPinkUpper, PINK, 1.6),
    dots(bPinkLower, PINK, 1.6),
    dots(bPinkRight, PINK, 1.6),
    { ...line(hatchPoints, PINK, 2.4), borderDash: [2.5, .8], spanGaps: false },
    area(bPinkSolid, PINK),
    area(bPinkBand, PINK),
    area(bPinkHaze, pinkFade('x', bPinkHazeFade))
  ] },
  options: {
    ...baseOpts,
    layout: { padding: { top: 28.3, right: 7, left: 0, bottom: 0 } },
    plugins: noLegend,
    scales: {
      x: {
        min: -0.51, max: 13.52,
        afterBuildTicks: setTicks(bXTicks),
        afterFit: fitX(136),
        border: { display: true, color: '#222', width: 1.5 },
        grid: { drawOnChartArea: false, tickLength: 14, tickColor: '#222', tickWidth: 1.5 },
        ticks: { autoSkip: false, maxRotation: 0, padding: 20, color: '#000', font: { family: 'Liberation Sans', size: 21 } },
        title: { display: true, text: 'log concentration', color: '#000', padding: { top: 0, bottom: 24 }, font: { family: 'Liberation Sans', size: 23 } }
      },
      y: {
        min: -5.41, max: 5.40,
        afterBuildTicks: setTicks(bYTicks),
        afterFit: fitY(134.6),
        border: { display: true, color: '#222', width: 1.5 },
        grid: { drawOnChartArea: false, tickLength: 15, tickColor: '#222', tickWidth: 1.5 },
        ticks: { display: false },
        title: { display: true, text: 'log fold change: pb − con', color: '#000', padding: { top: 26, bottom: 0 }, font: { family: 'Liberation Sans', size: 23 } }
      }
    }
  },
  plugins: [{
    id: 'densityAndFrame',
    beforeDatasetsDraw(chart) {
      const { ctx, chartArea: a, scales: { x, y } } = chart;
      const stepX = bDensityX[1] - bDensityX[0], stepY = bDensityY[0] - bDensityY[1];
      const x0 = x.getPixelForValue(bDensityX[0] - stepX / 2);
      const x1 = x.getPixelForValue(bDensityX[bDensityX.length - 1] + stepX / 2);
      const y0 = y.getPixelForValue(bDensityY[0] + stepY / 2);
      const y1 = y.getPixelForValue(bDensityY[bDensityY.length - 1] - stepY / 2);
      ctx.save();
      ctx.beginPath();
      ctx.rect(a.left, a.top, a.width, a.height);
      ctx.clip();
      ctx.imageSmoothingEnabled = true;
      ctx.imageSmoothingQuality = 'high';
      ctx.drawImage(densityLayer, x0, y0, x1 - x0, y1 - y0);
      ctx.restore();
    },
    afterDraw(chart) {
      const { ctx, chartArea: a, scales: { y } } = chart;
      ctx.save();
      ctx.strokeStyle = '#222';
      ctx.lineWidth = 1.5;
      ctx.strokeRect(a.left, a.top, a.width, a.height);
      // R style y tick labels, turned with the axis
      ctx.fillStyle = '#000';
      ctx.font = '23px "Liberation Sans"';
      ctx.textAlign = 'center';
      ctx.textBaseline = 'middle';
      bYTicks.forEach(v => {
        ctx.save();
        ctx.translate(a.left - 41, y.getPixelForValue(v));
        ctx.rotate(-Math.PI / 2);
        ctx.fillText(String(v).replace('-', '−'), 0, 0);
        ctx.restore();
      });
      ctx.restore();
    }
  }]
});

new Chart(document.getElementById('pie'), {
  type: 'pie',
  data: { labels: pieLabels, datasets: [{ data: pieCounts, backgroundColor: pieColors, borderColor: '#000', borderWidth: 1.5 }] },
  options: {
    ...baseOpts,
    rotation: 90,
    layout: { padding: { top: 100, bottom: 8 } },
    plugins: noLegend
  },
  plugins: [{
    id: 'pieText',
    afterDraw(chart) {
      const ctx = chart.ctx;
      const total = pieCounts.reduce((s, v) => s + v, 0);
      ctx.save();
      ctx.fillStyle = '#000';
      ctx.textBaseline = 'middle';
      ctx.textAlign = 'center';
      ctx.font = 'bold 43.6px "Liberation Sans"';
      ctx.fillText(`Total:${total}(Up:${pieCounts[1]};Down${pieCounts[0]})`, chart.chartArea.left + chart.chartArea.width / 2, 41);
      ctx.font = '37.5px "Liberation Sans"';
      ctx.strokeStyle = '#000';
      ctx.lineWidth = 1.5;
      chart.getDatasetMeta(0).data.forEach((arc, i) => {
        const mid = (arc.startAngle + arc.endAngle) / 2;
        const cos = Math.cos(mid), sin = Math.sin(mid);
        const r = arc.outerRadius;
        const ex = arc.x + cos * (r + 14), ey = arc.y + sin * (r + 14);
        ctx.beginPath();
        ctx.moveTo(arc.x + cos * r, arc.y + sin * r);
        ctx.lineTo(ex, ey);
        ctx.stroke();
        const right = cos < 0;
        ctx.textAlign = right ? 'right' : 'left';
        const tx = right ? ex - 12 : ex + 13;
        const shift = right ? 3 : 0;
        ctx.fillText(pieLabels[i], tx, ey - 22 + shift);
        ctx.fillText(Math.round(pieCounts[i] / total * 100) + '%', tx, ey + 24 + shift);
      });
      ctx.restore();
    }
  }]
});
</script>
</body>
</html>
